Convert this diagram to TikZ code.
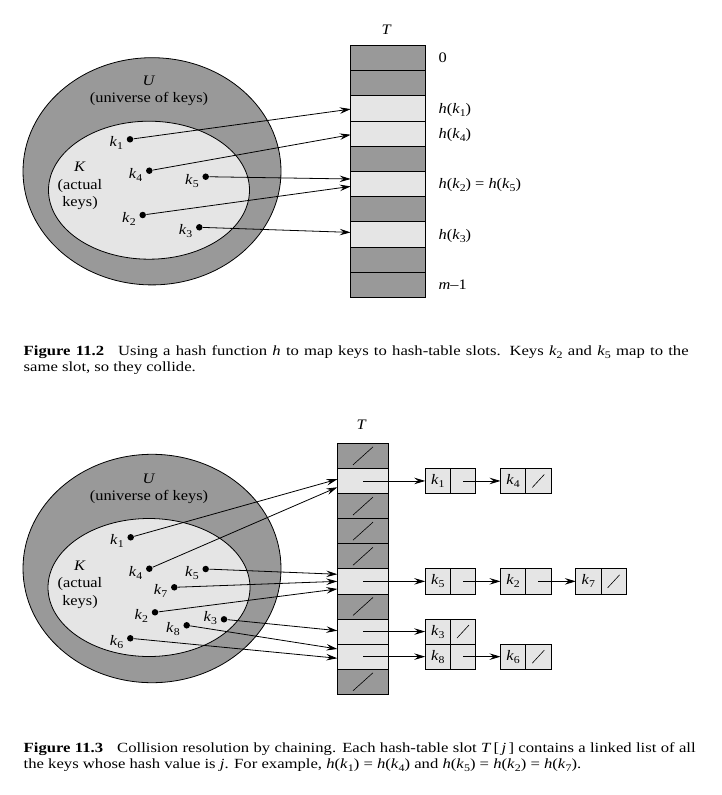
\documentclass[tikz,border=0pt]{standalone}
\usepackage{fontspec}
\setmainfont{Liberation Serif}
\newfontfamily\figfont[FakeStretch=1.13,Ligatures=TeX]{Liberation Serif}
\newfontfamily\capfont[FakeStretch=1.19,Ligatures=TeX]{Liberation Serif}
\usetikzlibrary{arrows.meta}
\definecolor{slotdark}{gray}{0.6}
\definecolor{slotlight}{gray}{0.9}
\newcommand\ksub[1]{\raisebox{-0.45ex}{\scalebox{0.72}{#1}}}
\newcommand\kk[1]{\textit{k}\ksub{#1}}
\newcommand\hk[1]{\textit{h}(\kk{#1})}
\tikzset{
  every node/.style={font=\figfont\fontsize{14.5}{17.5}\selectfont},
  dot/.style={circle,fill=black,inner sep=0pt,minimum size=6.5pt},
  keylbl/.style={anchor=east,inner sep=0pt,xshift=-3pt,yshift=-4pt},
  slotbox/.style={draw,inner sep=0pt,outer sep=0pt},
  cell/.style={draw,fill=slotlight,inner sep=0pt,outer sep=0pt,minimum width=25.2pt,minimum height=25.1pt},
  slotlbl/.style={anchor=base west,inner sep=0pt,xshift=12.5pt,yshift=-5pt},
  ptr/.style={-{Stealth[length=11pt,width=6.5pt,inset=4pt]}},
  caption/.style={anchor=base west,inner sep=0pt,font=\capfont\fontsize{14}{16}\selectfont}
}
\begin{document}
\begin{tikzpicture}[x=1pt,y=-1pt,line width=0.8pt]
\useasboundingbox (0,0) rectangle (721,795);
% Figure 11.2
\draw[fill=slotdark] (152,171.3) ellipse [x radius=129, y radius=113.6];
\draw[fill=slotlight] (149,190.2) ellipse [x radius=100.5, y radius=69];
\node[align=center] (univ) at (149,91) {\textit{U}\\(universe of keys)};
\node[align=center] (actual) at (80,186) {\textit{K}\\(actual\\keys)};
\foreach \k/\x/\y in {1/130/139.3, 4/149.3/170.7, 5/205.7/176.7, 2/142.7/215, 3/199.3/227.3}{
  \node[dot] (k\k) at (\x,\y) {};
  \node[keylbl] (lk\k) at (k\k.west) {\kk{\k}};
}
\foreach \i/\c in {0/slotdark,1/slotdark,2/slotlight,3/slotlight,4/slotdark,5/slotlight,6/slotdark,7/slotlight,8/slotdark,9/slotdark}
  \node[slotbox,fill=\c,minimum width=75pt,minimum height=25.2pt] (s\i) at (388.2,{45.3+25.2*(\i+0.5)}) {};
\node (tab) at (386.7,30) {\textit{T}};
\foreach \i/\t in {0/0, 2/\hk1, 3/\hk4, 5/{\hk2 = \hk5}, 7/\hk3, 9/{\textit{m}\textendash1}}
  \node[slotlbl] (h\i) at (s\i.east) {\t};
\draw[ptr] (k1) -- ([yshift=-0.8pt]s2.west);
\draw[ptr] (k4) -- ([yshift=-1.2pt]s3.west);
\draw[ptr] (k5) -- ([yshift=4.9pt]s5.west);
\draw[ptr] (k2) -- ([yshift=-2.5pt]s5.west);
\draw[ptr] (k3) -- ([yshift=1.9pt]s7.west);
\node[caption] (cap1) at (23.3,355.5) {\makebox[665pt][s]{\textbf{Figure 11.2}\quad Using a hash function \textit{h} to map keys to hash-table slots. Keys \kk2 and \kk5 map to the}};
\node[caption] (cap2) at (23.3,371.5) {same slot, so they collide.};
% Figure 11.3
\draw[fill=slotdark] (152,568.5) ellipse [x radius=129, y radius=114.2];
\draw[fill=slotlight] (149,587.5) ellipse [x radius=101, y radius=69];
\node[align=center] (univb) at (149,488.7) {\textit{U}\\(universe of keys)};
\node[align=center] (actualb) at (80,584.7) {\textit{K}\\(actual\\keys)};
\foreach \k/\x/\y in {1/130.7/537.3, 4/149.3/568.7, 5/205.7/569, 7/174.3/587.3, 2/155/612.3, 8/186.7/625.3, 6/130.3/638.3}{
  \node[dot] (m\k) at (\x,\y) {};
  \node[keylbl] (lm\k) at (m\k.west) {\kk{\k}};
}
\node[dot] (m3) at (224,619.3) {};
\node[keylbl,yshift=5.6pt] (lm3) at (m3.west) {\kk3};
\foreach \i/\c in {0/slotdark,1/slotlight,2/slotdark,3/slotdark,4/slotdark,5/slotlight,6/slotdark,7/slotlight,8/slotlight,9/slotdark}
  \node[slotbox,fill=\c,minimum width=51.4pt,minimum height=25.1pt] (t\i) at (363,{443.3+25.1*(\i+0.5)}) {};
\foreach \i in {0,2,3,4,6,9}
  \draw[line width=0.6pt] ([shift={(-10pt,-9pt)}]t\i.center) -- ([shift={(10pt,9pt)}]t\i.center);
\node (tabb) at (361.7,425) {\textit{T}};
\foreach \r/\s/\n/\k in {1/1/0/1, 2/1/1/4, 3/5/0/5, 4/5/1/2, 5/5/2/7, 6/7/0/3, 7/8/0/8, 8/8/1/6}{
  \node[cell] (a\r) at ([xshift=74.8pt+75.3pt*\n]t\s.center) {\kk{\k}};
  \node[cell] (b\r) at ([xshift=25.2pt]a\r.center) {};
}
\foreach \r in {2,5,6,8}
  \draw[line width=0.6pt] ([shift={(-6pt,-6.5pt)}]b\r.center) -- ([shift={(6pt,6.5pt)}]b\r.center);
\draw[ptr] (t1.center) -- (a1);
\draw[ptr] (b1.center) -- (a2);
\draw[ptr] (t5.center) -- (a3);
\draw[ptr] (b3.center) -- (a4);
\draw[ptr] (b4.center) -- (a5);
\draw[ptr] (t7.center) -- (a6);
\draw[ptr] (t8.center) -- (a7);
\draw[ptr] (b7.center) -- (a8);
\draw[ptr] (m1) -- ([yshift=1.7pt]t1.west);
\draw[ptr] (m4) -- ([yshift=-6.3pt]t1.west);
\draw[ptr] (m5) -- ([yshift=7.1pt]t5.west);
\draw[ptr] (m7) -- (t5.west);
\draw[ptr] (m2) -- ([yshift=-7.6pt]t5.west);
\draw[ptr] (m3) -- ([yshift=0.9pt]t7.west);
\draw[ptr] (m8) -- ([yshift=7.7pt]t8.west);
\draw[ptr] (m6) -- ([yshift=-1.6pt]t8.west);
\node[caption] (cap3) at (23.3,752) {\makebox[672pt][s]{\textbf{Figure 11.3}\quad Collision resolution by chaining. Each hash-table slot \textit{T}\,[\,\textit{j}\,] contains a linked list of all}};
\node[caption] (cap4) at (23.3,768.5) {the keys whose hash value is \textit{j}. For example, \hk1 = \hk4 and \hk5 = \hk2 = \hk7.};
\end{tikzpicture}
\end{document}
